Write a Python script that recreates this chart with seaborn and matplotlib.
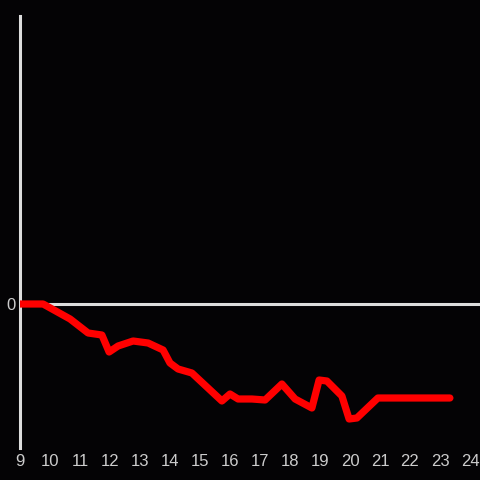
import matplotlib
matplotlib.use("Agg")
import matplotlib.pyplot as plt
import seaborn as sns
import pandas as pd

# values (x in hours, y relative to 0)
hours = [9.0, 9.77, 10.67, 11.27, 11.73, 11.97, 12.27, 12.77, 13.27, 13.77,
         14.0, 14.27, 14.73, 15.73, 16.0, 16.27, 16.73, 17.17, 17.73, 18.17,
         18.73, 18.97, 19.23, 19.73, 19.97, 20.23, 20.93, 23.33]
values = [0.0, 0.0, -0.15, -0.29, -0.31, -0.48, -0.42, -0.37, -0.39, -0.46,
          -0.59, -0.65, -0.69, -0.97, -0.90, -0.95, -0.95, -0.96, -0.80, -0.95,
          -1.04, -0.76, -0.77, -0.92, -1.15, -1.14, -0.94, -0.94]
xticks = list(range(9, 25))
yticks = [0]

bg = "#040305"
fg = "#dddddd"

sns.set_theme(style="dark", rc={
    "axes.facecolor": bg,
    "figure.facecolor": bg,
    "axes.grid": False,
})
plt.rcParams["font.family"] = ["Liberation Sans", "DejaVu Sans"]

df = pd.DataFrame({"hour": hours, "value": values})

fig = plt.figure(figsize=(4.8, 4.8), dpi=100)
ax = fig.add_axes([20 / 480, 32 / 480, 460 / 480, 432 / 480])

ax.axhline(0, color=fg, lw=2.2, zorder=1)
sns.lineplot(data=df, x="hour", y="value", ax=ax, color="#ff0000",
             linewidth=5.2, zorder=3)

ax.set_xlim(9, 9 + 460 / 30)
ax.set_ylim(-1.44, 2.88)
ax.set_xticks(xticks)
ax.set_yticks(yticks)
ax.set_xlabel("")
ax.set_ylabel("")
ax.tick_params(length=0, labelsize=12, colors="#cccccc")
ax.tick_params(axis="x", pad=4)
ax.tick_params(axis="y", pad=3)

for side in ["top", "right", "bottom"]:
    ax.spines[side].set_visible(False)
ax.spines["left"].set_color(fg)
ax.spines["left"].set_linewidth(2.2)

fig.savefig("out.png", dpi=100, facecolor=bg)
